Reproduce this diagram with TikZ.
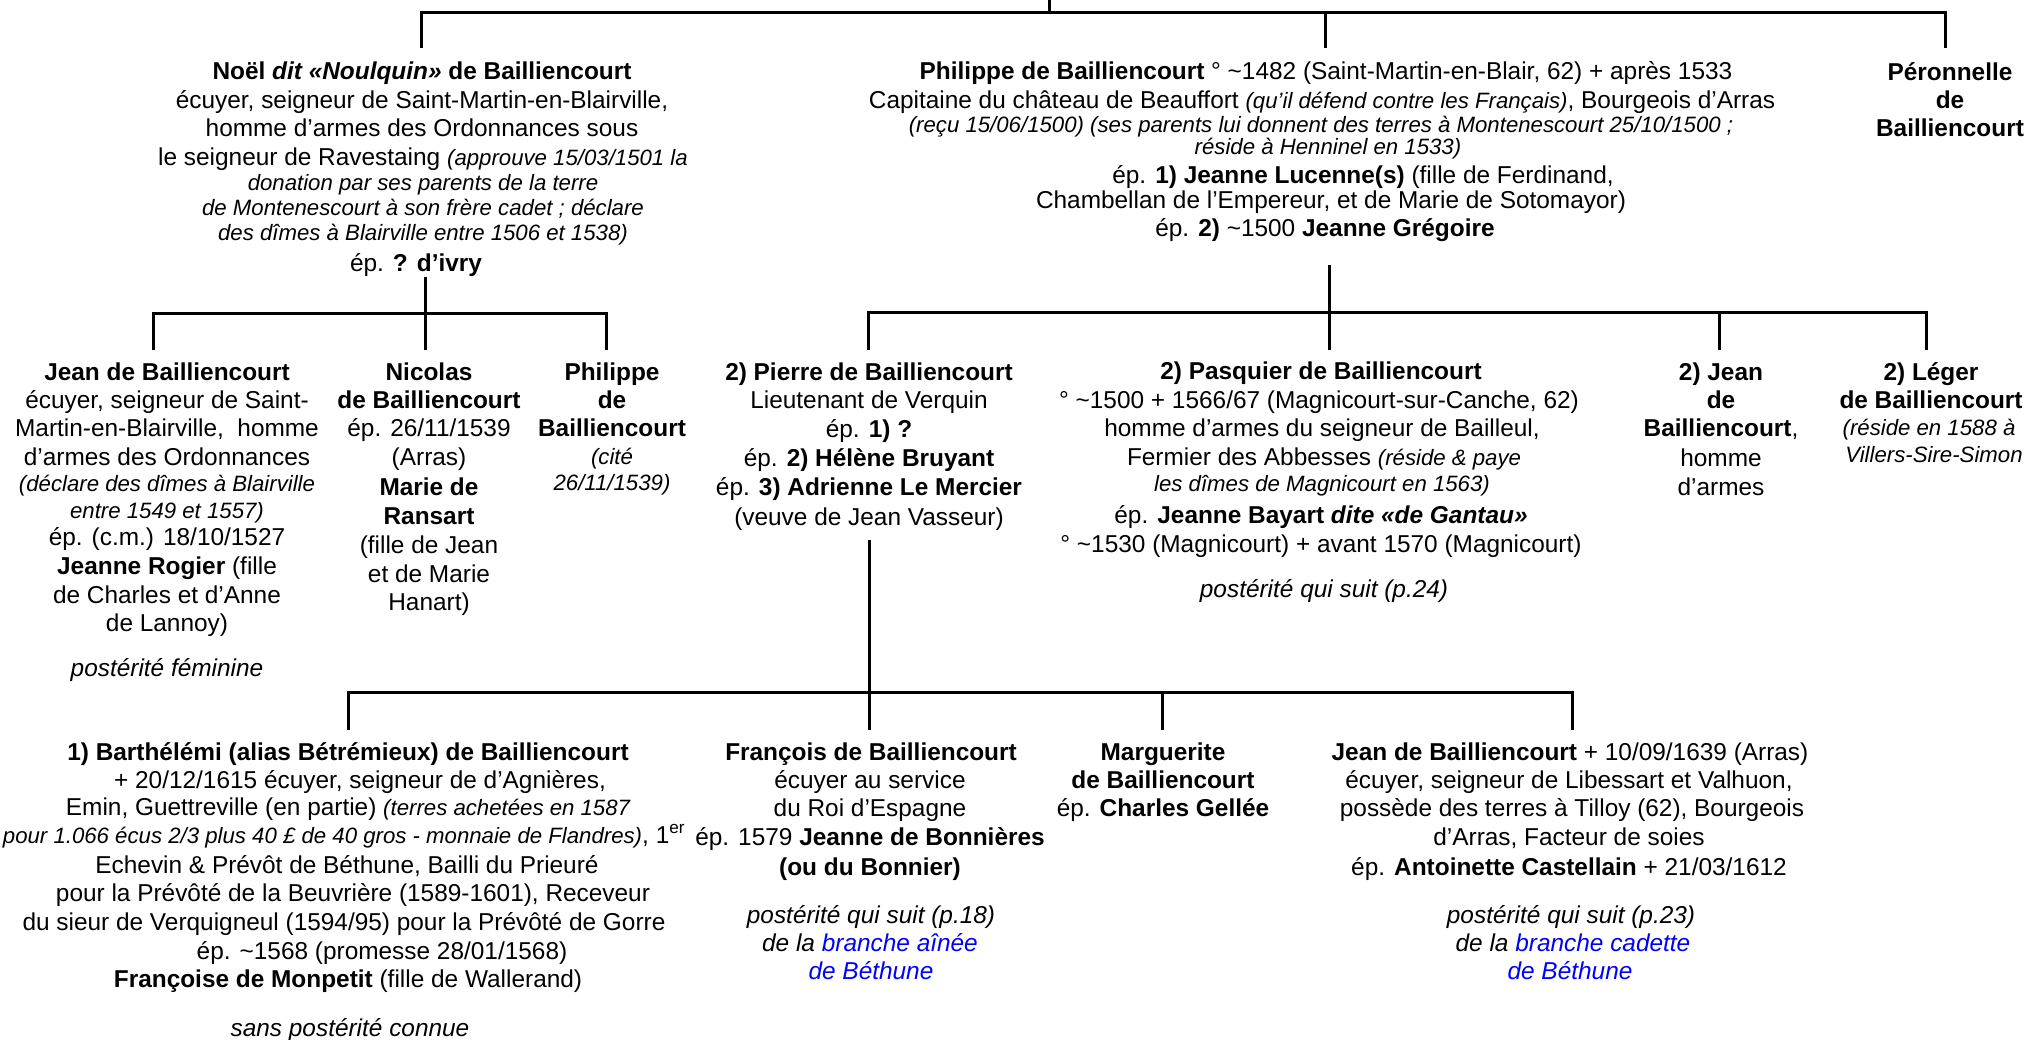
\documentclass[tikz,border=0pt]{standalone}
\usepackage{fontspec}
\setmainfont{Liberation Sans}
\usepackage{xcolor}
\newcommand\NS{\fontsize{24.4}{28}\selectfont}
\newcommand\SI[1]{{\fontsize{22.2}{26}\selectfont\itshape #1}}
\newcommand\tld{\textasciitilde}
\begin{document}
\begin{tikzpicture}[x=1pt,y=-1pt,
 txt/.style={inner sep=0pt, anchor=base, font=\NS},
 sit/.style={txt, font=\fontsize{22.2}{26}\selectfont\itshape},
 nit/.style={txt, font=\NS\itshape},
 bld/.style={txt, font=\NS\bfseries},
 link/.style={line width=3pt, line join=miter}]
\useasboundingbox[fill=white] (0,0) rectangle (2029,1039);

% ---------------- generation 1
\node[txt] (noel1) at (422,79) {\textbf{Noël \textit{dit «Noulquin»} de Bailliencourt}};
\node[txt] (noel2) at (422,108) {écuyer, seigneur de Saint-Martin-en-Blairville,};
\node[txt] (noel3) at (422,136) {homme d’armes des Ordonnances sous};
\node[txt] (noel4) at (423,165) {le seigneur de Ravestaing \SI{(approuve 15/03/1501 la}};
\node[sit] (noel5) at (423,190) {donation par ses parents de la terre};
\node[sit] (noel6) at (423,215) {de Montenescourt à son frère cadet ; déclare};
\node[sit] (noel7) at (423,240) {des dîmes à Blairville entre 1506 et 1538)};
\node[txt] (noel8) at (416,271) {ép. \textbf{? d’ivry}};

\node[txt] (phil1) at (1326,79) {\textbf{Philippe de Bailliencourt} ° \tld1482 (Saint-Martin-en-Blair, 62) + après 1533};
\node[txt] (phil2) at (1322,108) {Capitaine du château de Beauffort \SI{(qu’il défend contre les Français)}, Bourgeois d’Arras};
\node[sit] (phil3) at (1321,132) {(reçu 15/06/1500) (ses parents lui donnent des terres à Montenescourt 25/10/1500 ;};
\node[sit] (phil4) at (1328,154) {réside à Henninel en 1533)};
\node[txt] (phil5) at (1363,183) {ép. \textbf{1) Jeanne Lucenne(s)} (fille de Ferdinand,};
\node[txt] (phil6) at (1331,208) {Chambellan de l’Empereur, et de Marie de Sotomayor)};
\node[txt] (phil7) at (1325,236) {ép. \textbf{2)} \tld1500 \textbf{Jeanne Grégoire}};

\node[bld] (pero1) at (1950,80) {Péronnelle};
\node[bld] (pero2) at (1950,108) {de};
\node[bld] (pero3) at (1950,136) {Bailliencourt};

% ---------------- generation 2, left
\node[bld] (jean1) at (167,380) {Jean de Bailliencourt};
\node[txt] (jean2) at (167,408) {écuyer, seigneur de Saint-};
\node[txt] (jean3) at (167,436) {Martin-en-Blairville,\ \ homme};
\node[txt] (jean4) at (167,465) {d’armes des Ordonnances};
\node[sit] (jean5) at (167,491) {(déclare des dîmes à Blairville};
\node[sit] (jean6) at (167,518) {entre 1549 et 1557)};
\node[txt] (jean7) at (167,545) {ép. (c.m.) 18/10/1527};
\node[txt] (jean8) at (167,574) {\textbf{Jeanne Rogier} (fille};
\node[txt] (jean9) at (167,603) {de Charles et d’Anne};
\node[txt] (jean10) at (167,631) {de Lannoy)};
\node[nit] (jean11) at (167,676) {postérité féminine};

\node[bld] (nico1) at (429,380) {Nicolas};
\node[bld] (nico2) at (429,408) {de Bailliencourt};
\node[txt] (nico3) at (429,436) {ép. 26/11/1539};
\node[txt] (nico4) at (429,465) {(Arras)};
\node[bld] (nico5) at (429,495) {Marie de};
\node[bld] (nico6) at (429,524) {Ransart};
\node[txt] (nico7) at (429,553) {(fille de Jean};
\node[txt] (nico8) at (429,582) {et de Marie};
\node[txt] (nico9) at (429,610) {Hanart)};

\node[bld] (phb1) at (612,380) {Philippe};
\node[bld] (phb2) at (612,408) {de};
\node[bld] (phb3) at (612,436) {Bailliencourt};
\node[sit] (phb4) at (612,464) {(cité};
\node[sit] (phb5) at (612,490) {26/11/1539)};

% ---------------- generation 2, right
\node[bld] (pier1) at (869,380) {2) Pierre de Bailliencourt};
\node[txt] (pier2) at (869,408) {Lieutenant de Verquin};
\node[txt] (pier3) at (869,437) {ép. \textbf{1) ?}};
\node[txt] (pier4) at (869,466) {ép. \textbf{2) Hélène Bruyant}};
\node[txt] (pier5) at (869,495) {ép. \textbf{3) Adrienne Le Mercier}};
\node[txt] (pier6) at (869,525) {(veuve de Jean Vasseur)};

\node[bld] (pasq1) at (1321,379) {2) Pasquier de Bailliencourt};
\node[txt] (pasq2) at (1319,408) {° \tld1500 + 1566/67 (Magnicourt-sur-Canche, 62)};
\node[txt] (pasq3) at (1322,436) {homme d’armes du seigneur de Bailleul,};
\node[txt] (pasq4) at (1324,465) {Fermier des Abbesses \SI{(réside \& paye}};
\node[sit] (pasq5) at (1322,491) {les dîmes de Magnicourt en 1563)};
\node[txt] (pasq6) at (1321,523) {ép. \textbf{Jeanne Bayart \textit{dite «de Gantau»}}};
\node[txt] (pasq7) at (1321,552) {° \tld1530 (Magnicourt) + avant 1570 (Magnicourt)};
\node[nit] (pasq8) at (1324,597) {postérité qui suit (p.24)};

\node[bld] (jn1) at (1721,380) {2) Jean};
\node[bld] (jn2) at (1721,408) {de};
\node[txt] (jn3) at (1721,436) {\textbf{Bailliencourt},};
\node[txt] (jn4) at (1721,466) {homme};
\node[txt] (jn5) at (1721,495) {d’armes};

\node[bld] (leg1) at (1931,380) {2) Léger};
\node[bld] (leg2) at (1931,408) {de Bailliencourt};
\node[sit] (leg3) at (1929,435) {(réside en 1588 à};
\node[sit] (leg4) at (1934,462) {Villers-Sire-Simon};

% ---------------- generation 3
\node[bld] (bart1) at (348,760) {1) Barthélémi (alias Bétrémieux) de Bailliencourt};
\node[txt] (bart2) at (360,788) {+ 20/12/1615 écuyer, seigneur de d’Agnières,};
\node[txt] (bart3) at (348,815) {Emin, Guettreville (en partie) \SI{(terres achetées en 1587}};
\node[txt] (bart4) at (344,843) {\SI{pour 1.066 écus 2/3 plus 40 £ de 40 gros - monnaie de Flandres)}, 1\textsuperscript{er}};
\node[txt] (bart5) at (347,873) {Echevin \& Prévôt de Béthune, Bailli du Prieuré};
\node[txt] (bart6) at (353,901) {pour la Prévôté de la Beuvrière (1589-1601), Receveur};
\node[txt] (bart7) at (344,930) {du sieur de Verquigneul (1594/95) pour la Prévôté de Gorre};
\node[txt] (bart8) at (382,959) {ép. \tld1568 (promesse 28/01/1568)};
\node[txt] (bart9) at (348,987) {\textbf{Françoise de Monpetit} (fille de Wallerand)};
\node[nit] (bart10) at (350,1036) {sans postérité connue};

\node[bld] (fran1) at (871,760) {François de Bailliencourt};
\node[txt] (fran2) at (870,788) {écuyer au service};
\node[txt] (fran3) at (870,816) {du Roi d’Espagne};
\node[txt] (fran4) at (870,845) {ép. 1579 \textbf{Jeanne de Bonnières}};
\node[bld] (fran5) at (870,875) {(ou du Bonnier)};
\node[nit] (fran6) at (871,923) {postérité qui suit (p.18)};
\node[nit] (fran7) at (870,951) {de la \textcolor{blue}{branche aînée}};
\node[nit, text=blue] (fran8) at (871,979) {de Béthune};

\node[bld] (marg1) at (1163,760) {Marguerite};
\node[bld] (marg2) at (1163,788) {de Bailliencourt};
\node[txt] (marg3) at (1163,816) {ép. \textbf{Charles Gellée}};

\node[txt] (jb1) at (1570,760) {\textbf{Jean de Bailliencourt} + 10/09/1639 (Arras)};
\node[txt] (jb2) at (1569,788) {écuyer, seigneur de Libessart et Valhuon,};
\node[txt] (jb3) at (1572,816) {possède des terres à Tilloy (62), Bourgeois};
\node[txt] (jb4) at (1569,845) {d’Arras, Facteur de soies};
\node[txt] (jb5) at (1569,875) {ép. \textbf{Antoinette Castellain} + 21/03/1612};
\node[nit] (jb6) at (1571,923) {postérité qui suit (p.23)};
\node[nit] (jb7) at (1573,951) {de la \textcolor{blue}{branche cadette}};
\node[nit, text=blue] (jb8) at (1570,979) {de Béthune};

% ---------------- connectors
\coordinate (t0) at (1049,0);
\coordinate (t1) at (1049,12);
\coordinate (noelIn) at (421,48);
\coordinate (philIn) at (1325,48);
\coordinate (peroIn) at (1945,48);
\draw[link] (noelIn) |- (peroIn |- t1) -- (peroIn);
\draw[link] (t0) -- (t1);
\draw[link] (philIn |- t1) -- (philIn);

\coordinate (noelOut) at (425,277);
\coordinate (bar1) at (0,313);
\coordinate (jeanIn) at (153,350);
\coordinate (nicoIn) at (425,350);
\coordinate (phbIn) at (606,350);
\draw[link] (jeanIn) |- (phbIn |- bar1) -- (phbIn);
\draw[link] (noelOut) -- (nicoIn);

\coordinate (philOut) at (1329,265);
\coordinate (bar2) at (0,312);
\coordinate (pierIn) at (868,350);
\coordinate (pasqIn) at (1329,350);
\coordinate (jnIn) at (1719,350);
\coordinate (legIn) at (1926,350);
\draw[link] (pierIn) |- (legIn |- bar2) -- (legIn);
\draw[link] (philOut) -- (pasqIn);
\draw[link] (jnIn |- bar2) -- (jnIn);

\coordinate (pierOut) at (869,540);
\coordinate (bar3) at (0,692);
\coordinate (bartIn) at (348,730);
\coordinate (franIn) at (869,730);
\coordinate (margIn) at (1162,730);
\coordinate (jbIn) at (1572,730);
\draw[link] (bartIn) |- (jbIn |- bar3) -- (jbIn);
\draw[link] (pierOut) -- (franIn);
\draw[link] (margIn |- bar3) -- (margIn);
\end{tikzpicture}
\end{document}
